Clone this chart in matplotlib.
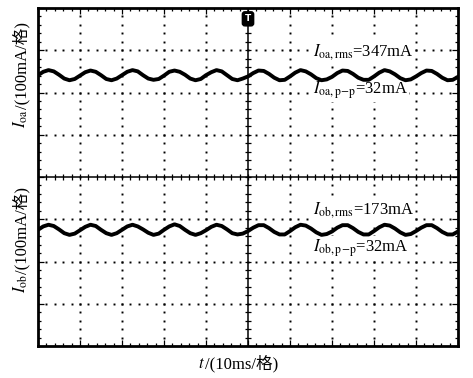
import numpy as np
import matplotlib
matplotlib.use("Agg")
import matplotlib.pyplot as plt

plt.rcParams['font.family'] = ['Liberation Serif', 'Noto Sans CJK SC']
plt.rcParams['mathtext.fontset'] = 'stix'

# sample times, ms (1.25 ms step over 10 divisions of 10 ms)
t_ms = np.arange(0, 100.01, 1.25)

# I_oa trace as shown on screen, mA (offset from screen centre)
i_oa = [241, 249, 253, 250, 242, 233, 229, 232,
        240, 248, 252, 249, 241, 232, 229, 233,
        241, 249, 253, 250, 241, 233, 230, 232,
        240, 249, 252, 249, 242, 233, 229, 232,
        241, 248, 253, 250, 241, 232, 229, 233,
        238, 246, 252, 251, 244, 235, 229, 230,
        238, 247, 253, 250, 243, 234, 229, 231,
        237, 246, 252, 251, 244, 235, 230, 230,
        238, 247, 253, 250, 243, 234, 229, 231,
        238, 246, 252, 251, 244, 235, 229, 230,
        237]

# I_ob trace, mA
i_ob = [-125, -117, -113, -116, -124, -133, -137, -134,
        -126, -118, -113, -116, -125, -133, -137, -133,
        -125, -117, -113, -117, -124, -132, -137, -134,
        -125, -117, -112, -116, -125, -133, -137, -133,
        -126, -118, -113, -116, -124, -133, -136, -134,
        -128, -120, -114, -114, -121, -130, -136, -136,
        -128, -119, -113, -115, -122, -131, -137, -135,
        -129, -120, -114, -114, -121, -130, -136, -136,
        -128, -119, -113, -115, -122, -131, -137, -135,
        -128, -120, -114, -114, -121, -130, -136, -136,
        -129]

notes = [r'$I_{\mathrm{oa,rms}}$=347mA', r'$I_{\mathrm{oa,p\!-\!p}}$=32mA',
         r'$I_{\mathrm{ob,rms}}$=173mA', r'$I_{\mathrm{ob,p\!-\!p}}$=32mA']

W, H = 473, 378
fig = plt.figure(figsize=(W/100, H/100), dpi=100)
ax = fig.add_axes([38/W, 32/H, 420/W, 338/H])
ax.set_xlim(0, 100)
ax.set_ylim(-400, 400)

# dotted graticule
xdots = np.arange(0, 100.01, 2)
ydots = np.arange(-400, 400.01, 20)
for gy in [-300, -200, -100, 100, 200, 300]:
    ax.plot(xdots, np.full_like(xdots, gy), ls='none', marker='s', ms=1.4, color='black', mew=0, zorder=1)
for gx in [10, 20, 30, 40, 60, 70, 80, 90]:
    ax.plot(np.full_like(ydots, gx), ydots, ls='none', marker='s', ms=1.4, color='black', mew=0, zorder=1)

# solid centre lines with cross ticks
ax.axhline(0, color='black', lw=1.1, zorder=1)
ax.axvline(50, color='black', lw=1.1, zorder=1)
ax.plot(xdots, np.zeros_like(xdots), ls='none', marker='|', ms=5, mew=0.9, color='black', zorder=1)
ax.plot(np.full_like(ydots, 50), ydots, ls='none', marker='_', ms=5, mew=0.9, color='black', zorder=1)

# traces
ax.plot(t_ms, i_oa, color='black', lw=2.8, solid_joinstyle='round', zorder=4)
ax.plot(t_ms, i_ob, color='black', lw=2.8, solid_joinstyle='round', zorder=4)

ax.set_xticks(np.arange(0, 101, 10))
ax.set_xticks(xdots, minor=True)
ax.set_yticks(np.arange(-400, 401, 100))
ax.set_yticks(ydots, minor=True)
ax.tick_params(which='minor', direction='in', top=True, right=True,
               labelleft=False, labelbottom=False, length=2.5, width=0.9)
ax.tick_params(which='major', direction='in', top=True, right=True,
               labelleft=False, labelbottom=False, length=4, width=0.9)
for s in ax.spines.values():
    s.set_linewidth(2)

# trigger marker
ax.text(0.5, 0.968, 'T', transform=ax.transAxes, ha='center', va='center',
        color='white', fontsize=6.5, fontweight='bold', family='DejaVu Sans',
        bbox=dict(boxstyle='round,pad=0.28', fc='black', ec='black'), zorder=5)

# measurement annotations (white backing hides the graticule dots, trace stays on top)
for lab, ypx in zip(notes, [52, 90, 210, 248]):
    ax.text(313/W, (H - ypx)/H, lab, transform=fig.transFigure, fontsize=12,
            ha='left', va='center', zorder=3,
            bbox=dict(boxstyle='square,pad=0.05', fc='white', ec='none'))

renderer = fig.canvas.get_renderer()


def split_label(x, y, head, tail, rot):
    # math part and plain part (CJK) drawn as two pieces on one baseline
    t1 = fig.text(x/W, y/H, head, fontsize=12, rotation=rot,
                  rotation_mode='anchor', ha='left', va='baseline')
    bb = t1.get_window_extent(renderer)
    if rot == 90:
        fig.text(x/W, (y + bb.height)/H, tail, fontsize=12, rotation=rot,
                 rotation_mode='anchor', ha='left', va='baseline')
    else:
        fig.text((x + bb.width)/W, y/H, tail, fontsize=12,
                 ha='left', va='baseline')


split_label(26, H - 128, r'$I_{\mathrm{oa}}$', '/(100mA/格)', 90)
split_label(26, H - 293, r'$I_{\mathrm{ob}}$', '/(100mA/格)', 90)
split_label(198, H - 368, r'$t$', '/(10ms/格)', 0)

fig.savefig('out.png', dpi=100)
